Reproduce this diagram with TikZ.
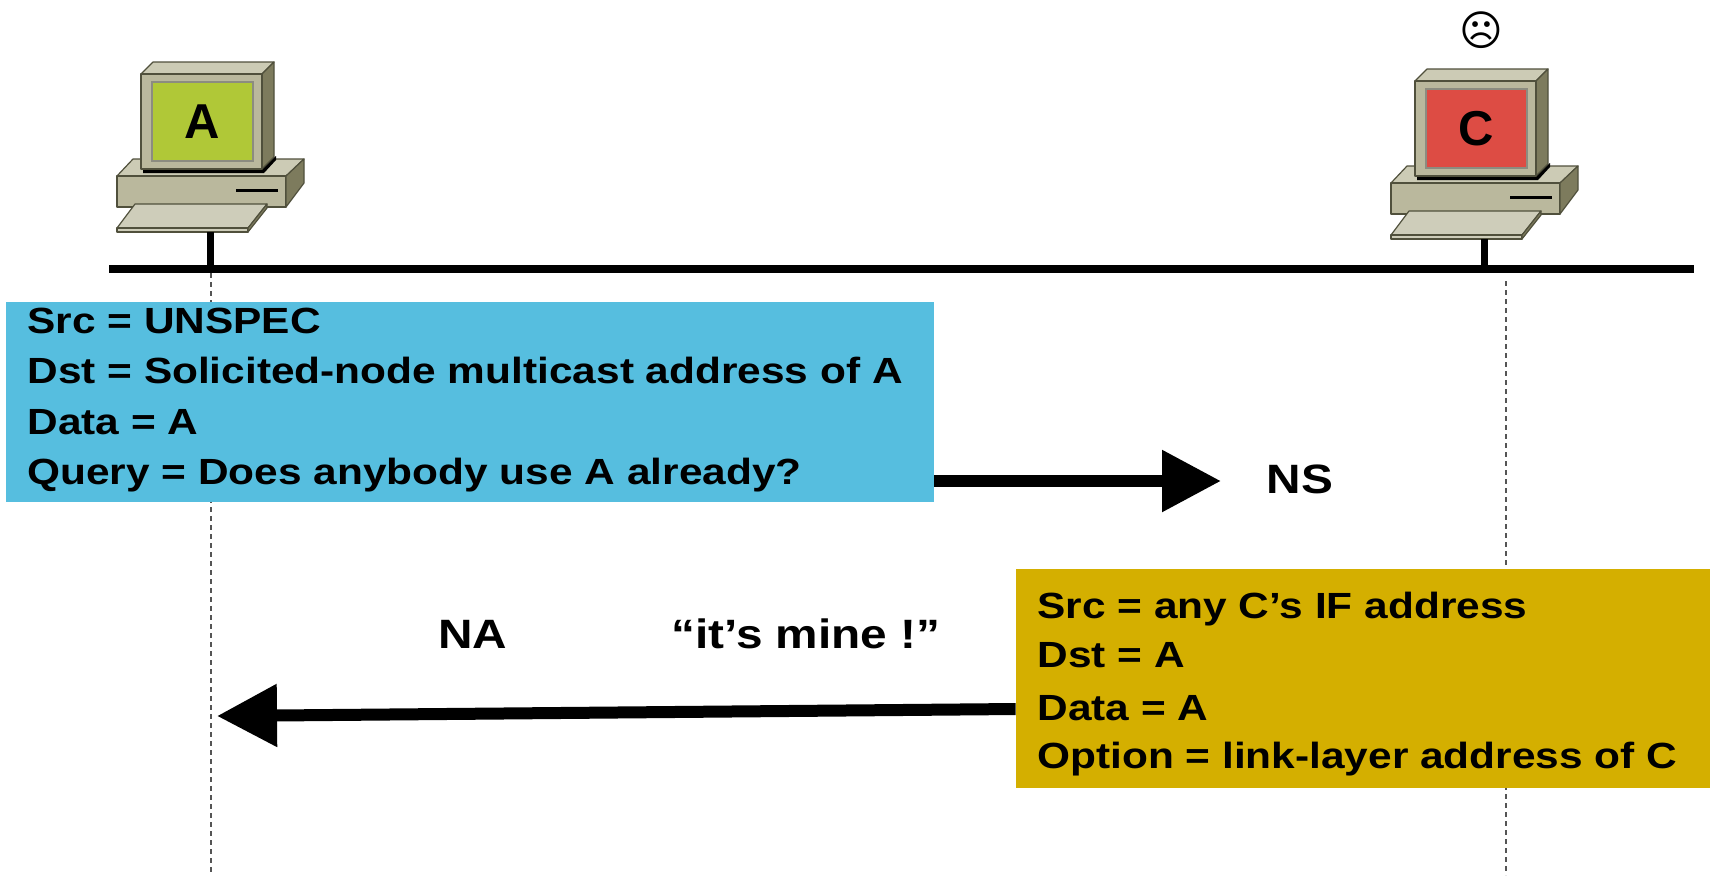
\documentclass[tikz,border=0pt]{standalone}
\usepackage{fontspec}
\setmainfont{Liberation Sans}
\newfontfamily\wideb{Liberation Sans}[FakeStretch=1.165]
\newfontfamily\symb{DejaVu Sans}
\usetikzlibrary{arrows.meta}

\definecolor{nsblue}{RGB}{86,190,223}
\definecolor{nagold}{RGB}{212,175,0}
\definecolor{scrgreen}{RGB}{176,200,55}
\definecolor{scrred}{RGB}{221,76,68}
\definecolor{pcfront}{RGB}{186,184,157}
\definecolor{pctop}{RGB}{204,203,181}
\definecolor{pcside}{RGB}{125,123,93}
\definecolor{pckey}{RGB}{206,205,186}
\definecolor{pcedge}{RGB}{80,80,60}
\definecolor{scrrim}{RGB}{140,140,128}
\definecolor{lifeline}{RGB}{85,85,85}

\tikzset{
  pc/.style={draw=pcedge, line width=0.6pt, line join=round},
  msgbox/.style={rectangle, draw=none, inner sep=0pt},
  msgtxt/.style={anchor=base west, inner sep=0pt, font=\wideb\bfseries\fontsize{18.2}{20}\selectfont},
  lbl/.style={anchor=base, inner sep=0pt, font=\wideb\bfseries\fontsize{20.5}{22}\selectfont},
  lifedash/.style={draw=lifeline, line width=0.8pt, dash pattern=on 2.5pt off 2pt},
  cable/.style={line width=3.5pt},
  bigarrow/.style={line width=6pt},
}

% one desktop computer; #1 shift, #2 screen colour, #3 node name, #4 letter
\newcommand\pcunit[4]{%
\begin{scope}[shift={#1}]
  % system box
  \filldraw[pc, fill=pctop] (117,176) -- (133,159) -- (304,159) -- (286,176) -- cycle;
  \filldraw[pc, fill=pcfront] (117,176) rectangle (286,207);
  \filldraw[pc, fill=pcside] (286,176) -- (304,159) -- (304,183) -- (286,207) -- cycle;
  \draw[line width=1.5pt] (236,190) -- (278,190);
  % shadow under the monitor
  \fill[black] (143,167) -- (262,167) -- (276,156) -- (276,160) -- (264,173) -- (143,173) -- cycle;
  % monitor
  \filldraw[pc, fill=pctop] (141,74) -- (153,62) -- (274,62) -- (262,74) -- cycle;
  \filldraw[pc, fill=pcside] (262,74) -- (274,62) -- (274,157) -- (262,169) -- cycle;
  \filldraw[pc, fill=pcfront] (141,74) rectangle (262,169);
  \filldraw[draw=scrrim, line width=0.8pt, fill=#2] (152,82) rectangle (253,161);
  \node[inner sep=0pt, font=\bfseries\fontsize{24.5}{24.5}\selectfont] (#3) at (202.5,121.5) {#4};
  % keyboard
  \filldraw[pc, fill=pckey] (135,204) -- (267,204) -- (248,228) -- (117,228) -- cycle;
  \filldraw[pc, fill=pckey] (117,228) rectangle (248,232);
  \filldraw[pc, fill=pcside] (248,228) -- (267,204) -- (267,208) -- (248,232) -- cycle;
  \coordinate (#3foot) at (210,232);
\end{scope}}

\begin{document}
\begin{tikzpicture}[x=0.5pt, y=-0.5pt]
\useasboundingbox (0,0) rectangle (1710,875);

% life lines
\draw[lifedash] (211,273) -- (211,875);
\draw[lifedash] (1506,281) -- (1506,875);

% hosts
\pcunit{(0,0)}{scrgreen}{pcA}{A}
\pcunit{(1274,7)}{scrred}{pcC}{C}
\node[inner sep=0pt, font=\symb\fontsize{21}{21}\selectfont] (sad) at (1481,30) {☹};

% shared link and drop cables
\coordinate (busL) at (109,269);
\coordinate (busR) at (1694,269);
\draw[cable] (pcAfoot) -- (pcAfoot |- busL);
\draw[cable] (pcCfoot) -- (pcCfoot |- busL);
\draw[line width=4pt] (busL) -- (busR);

% neighbour solicitation
\node[msgbox, fill=nsblue, minimum width=464pt, minimum height=100pt] (ns) at (470,402) {};
\node[msgtxt] (ns1) at (27,333) {Src = UNSPEC};
\node[msgtxt] (ns2) at (27,383) {Dst = Solicited-node multicast address of A};
\node[msgtxt] (ns3) at (27,434) {Data = A};
\node[msgtxt] (ns4) at (27,484) {Query = Does anybody use A already?};
\coordinate (nstip) at (1221,481);
\draw[bigarrow, -{Triangle[length=29.5pt 0 0, width=29.5pt 0]}] ([yshift=-39.5pt]ns.east) -- (nstip);
\node[lbl] (nslbl) at (1300,493) {NS};

% neighbour advertisement
\node[msgbox, fill=nagold, minimum width=347pt, minimum height=109.5pt] (na) at (1363,678.5) {};
\node[msgtxt] (na1) at (1037,618) {Src = any C’s IF address};
\node[msgtxt] (na2) at (1037,667) {Dst = A};
\node[msgtxt] (na3) at (1037,720) {Data = A};
\node[msgtxt] (na4) at (1037,768) {Option = link-layer address of C};
\coordinate (natip) at (217,716);
\draw[bigarrow, -{Triangle[length=30pt 0 0, width=30pt 0]}] ([yshift=-15.25pt]na.west) -- (natip);
\node[lbl] (nalbl) at (473,648) {NA};
\node[lbl] (mine) at (806,648) {“it’s mine !”};
\end{tikzpicture}
\end{document}
